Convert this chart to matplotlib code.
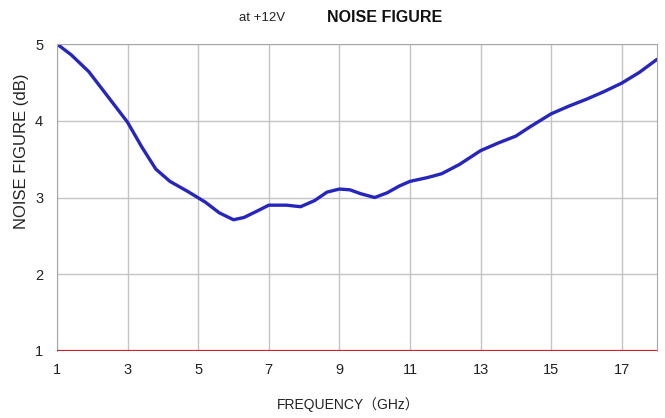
import matplotlib
matplotlib.use('Agg')
import matplotlib.pyplot as plt

# values
freq_ghz = [1.0, 1.4, 1.9, 2.4, 3.0, 3.4, 3.8, 4.2, 4.7, 5.2, 5.6, 6.0,
            6.3, 6.7, 7.0, 7.5, 7.9, 8.3, 8.65, 9.0, 9.3, 9.6, 10.0,
            10.35, 10.7, 11.0, 11.5, 11.9, 12.4, 13.0, 13.5, 14.0, 14.4,
            15.0, 15.5, 16.0, 16.5, 17.0, 17.5, 18.0]
noise_db = [5.00, 4.86, 4.64, 4.34, 3.98, 3.66, 3.37, 3.21, 3.08, 2.94,
            2.80, 2.71, 2.74, 2.83, 2.90, 2.90, 2.88, 2.96, 3.07, 3.11,
            3.10, 3.05, 3.00, 3.06, 3.15, 3.21, 3.26, 3.31, 3.43, 3.61,
            3.71, 3.80, 3.92, 4.09, 4.19, 4.28, 4.38, 4.49, 4.63, 4.80]
x_ticks = [1, 3, 5, 7, 9, 11, 13, 15, 17]
y_ticks = [1, 2, 3, 4, 5]

plt.rcParams['font.family'] = ['Liberation Sans', 'DejaVu Sans']

fig = plt.figure(figsize=(6.65, 4.18), dpi=100, facecolor='white')
ax = fig.add_axes([57 / 665, 67 / 418, 600 / 665, 307 / 418])

ax.plot(freq_ghz, noise_db, color='#2626bc', linewidth=2.4,
        solid_joinstyle='round', solid_capstyle='round')
ax.axhline(1, color='#d02030', linewidth=1.6, zorder=3)

ax.set_xlim(1, 18)
ax.set_ylim(1, 5)
ax.set_xticks(x_ticks)
ax.set_yticks(y_ticks)
ax.grid(True, color='#c4c4c4', linewidth=1)
ax.set_axisbelow(True)
for side in ['top', 'left', 'right']:
    ax.spines[side].set_color('#a8a8a8')
ax.spines['bottom'].set_visible(False)
ax.tick_params(length=0, labelsize=10.5, colors='#222222', pad=9)
ax.tick_params(axis='y', pad=10)

fig.text(262 / 665, 1 - 18 / 418, 'at +12V', ha='center', va='center', fontsize=9.5, color='#222222')
fig.text(385 / 665, 1 - 18 / 418, 'NOISE FIGURE', ha='center', va='center', fontsize=11.5,
         fontweight='bold', color='#111111')
fig.text(22 / 665, 1 - 151 / 418, 'NOISE FIGURE (dB)', rotation=90, ha='center', va='center',
         fontsize=12, color='#222222')
fig.text(348 / 665, 1 - 405 / 418, 'FREQUENCY（GHz）', ha='center', va='center',
         fontsize=10, color='#222222', family=['Liberation Sans', 'Noto Sans CJK SC'])

fig.savefig('out.png', dpi=100, facecolor='white')
